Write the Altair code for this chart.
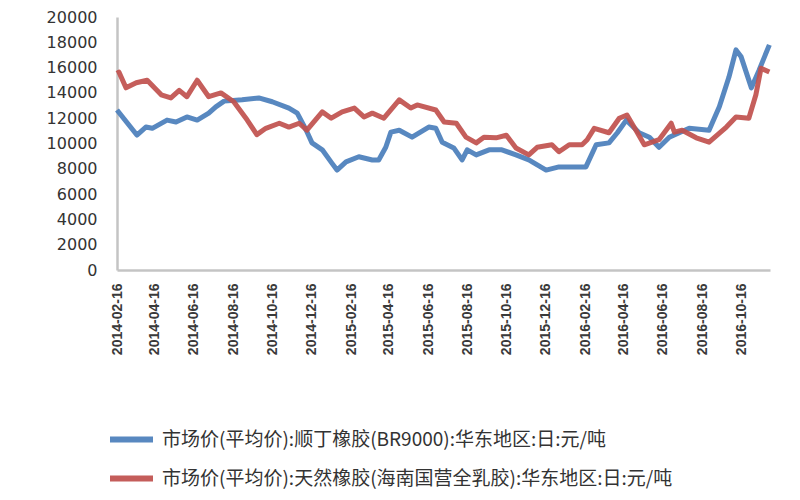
import altair as alt
import pandas as pd

label_blue = "市场价(平均价):顺丁橡胶(BR9000):华东地区:日:元/吨"
label_red = "市场价(平均价):天然橡胶(海南国营全乳胶):华东地区:日:元/吨"

blue_dates = [
    "2014-02-16", "2014-03-19", "2014-04-02", "2014-04-12", "2014-05-05", "2014-05-19",
    "2014-06-05", "2014-06-21", "2014-07-09", "2014-07-20", "2014-08-02", "2014-08-30",
    "2014-09-25", "2014-10-16", "2014-11-11", "2014-11-24", "2014-12-08", "2014-12-17",
    "2015-01-02", "2015-01-17", "2015-01-25", "2015-02-08", "2015-02-28", "2015-03-21",
    "2015-03-31", "2015-04-11", "2015-04-19", "2015-05-02", "2015-05-22", "2015-06-17",
    "2015-06-28", "2015-07-08", "2015-07-26", "2015-08-08", "2015-08-16", "2015-08-30",
    "2015-09-19", "2015-10-09", "2015-10-31", "2015-11-20", "2015-12-17", "2016-01-06",
    "2016-02-17", "2016-03-04", "2016-03-24", "2016-04-06", "2016-04-20", "2016-05-10",
    "2016-05-26", "2016-06-10", "2016-06-26", "2016-07-27", "2016-08-27", "2016-09-12",
    "2016-09-27", "2016-10-08", "2016-10-16", "2016-11-01", "2016-11-13", "2016-11-29",
]
blue_values = [
    12650, 10670, 11300, 11200, 11850, 11700,
    12100, 11850, 12400, 12900, 13350, 13450,
    13600, 13300, 12800, 12400, 11050, 10050,
    9500, 8450, 7900, 8550, 8950, 8700,
    8700, 9700, 10900, 11050, 10500, 11300,
    11200, 10100, 9650, 8700, 9500, 9100,
    9500, 9500, 9100, 8700, 7900, 8150,
    8150, 9900, 10050, 10850, 11850, 10850,
    10500, 9700, 10500, 11200, 11050, 12900,
    15250, 17400, 16850, 14400, 15800, 17800,
]

red_dates = [
    "2014-02-16", "2014-02-19", "2014-03-02", "2014-03-18", "2014-04-04", "2014-04-26",
    "2014-05-11", "2014-05-24", "2014-06-05", "2014-06-21", "2014-07-09", "2014-07-28",
    "2014-08-17", "2014-09-07", "2014-09-22", "2014-10-06", "2014-10-27", "2014-11-11",
    "2014-11-27", "2014-12-09", "2015-01-02", "2015-01-16", "2015-02-02", "2015-02-21",
    "2015-03-08", "2015-03-21", "2015-04-08", "2015-05-02", "2015-05-20", "2015-05-30",
    "2015-06-28", "2015-07-11", "2015-07-30", "2015-08-14", "2015-08-30", "2015-09-11",
    "2015-09-30", "2015-10-16", "2015-10-31", "2015-11-20", "2015-12-03", "2015-12-26",
    "2016-01-06", "2016-01-22", "2016-02-11", "2016-02-19", "2016-03-01", "2016-03-24",
    "2016-04-09", "2016-04-21", "2016-05-05", "2016-05-18", "2016-06-10", "2016-06-29",
    "2016-07-04", "2016-07-16", "2016-08-07", "2016-08-27", "2016-09-23", "2016-10-08",
    "2016-10-28", "2016-11-08", "2016-11-16", "2016-11-29",
]
red_values = [
    15550, 15650, 14400, 14800, 15000, 13850,
    13600, 14200, 13700, 15000, 13700, 14000,
    13300, 11850, 10700, 11200, 11600, 11300,
    11600, 11050, 12500, 12000, 12500, 12800,
    12100, 12400, 12000, 13450, 12800, 13050,
    12650, 11700, 11600, 10500, 10050, 10500,
    10450, 10650, 9650, 9100, 9700, 9900,
    9350, 9900, 9900, 10300, 11200, 10850,
    12000, 12250, 11050, 9900, 10300, 11600,
    10900, 11050, 10450, 10100, 11300, 12100,
    12000, 13850, 15950, 15650,
]

tick_years = [2014, 2014, 2014, 2014, 2014, 2014, 2015, 2015, 2015, 2015, 2015, 2015,
              2016, 2016, 2016, 2016, 2016]
tick_months = [2, 4, 6, 8, 10, 12, 2, 4, 6, 8, 10, 12, 2, 4, 6, 8, 10]
y_ticks = [0, 2000, 4000, 6000, 8000, 10000, 12000, 14000, 16000, 18000, 20000]

df = pd.concat([
    pd.DataFrame({"date": [d + "T00:00:00" for d in blue_dates], "value": blue_values,
                  "series": label_blue}),
    pd.DataFrame({"date": [d + "T00:00:00" for d in red_dates], "value": red_values,
                  "series": label_red}),
])

tick_values = [alt.DateTime(year=y, month=m, date=16) for y, m in zip(tick_years, tick_months)]

chart = alt.Chart(df).mark_line(strokeWidth=5, opacity=0.92, strokeJoin="round").encode(
    x=alt.X("date:T",
            scale=alt.Scale(domain=[alt.DateTime(year=2014, month=2, date=16),
                                    alt.DateTime(year=2016, month=11, date=30)]),
            axis=alt.Axis(values=tick_values, format="%Y-%m-%d", labelAngle=270,
                          title=None, grid=False, ticks=False, labelPadding=13,
                          labelFontSize=14, labelFont="Liberation Sans",
                          labelFontWeight="bold",
                          labelColor="#3a3a3a", domainColor="#c4c4c4", domainWidth=2.5,
                          labelOverlap=False)),
    y=alt.Y("value:Q",
            scale=alt.Scale(domain=[0, 20000], nice=False),
            axis=alt.Axis(values=y_ticks, format="d", title=None, grid=False, ticks=False,
                          labelPadding=20, labelFontSize=16, labelFont="DejaVu Sans",
                          labelColor="#333333", domainColor="#c4c4c4", domainWidth=2.5)),
    color=alt.Color("series:N",
                    scale=alt.Scale(domain=[label_blue, label_red],
                                    range=["#4a7ebb", "#c0504d"]),
                    legend=alt.Legend(title=None, orient="none", legendX=-10, legendY=398,
                                      direction="vertical", symbolType="stroke",
                                      symbolSize=1849, symbolStrokeWidth=6,
                                      labelFontSize=19, labelFont="Noto Sans CJK SC",
                                      labelColor="#333333", labelLimit=800,
                                      labelOffset=6, rowPadding=2)),
).properties(
    width=653,
    height=253,
    autosize=alt.AutoSizeParams(type="none"),
    padding={"left": 109, "top": 9, "right": 22, "bottom": 222},
).configure_view(stroke=None)

chart.save("out.html", embed_options={"renderer": "svg", "actions": False})
